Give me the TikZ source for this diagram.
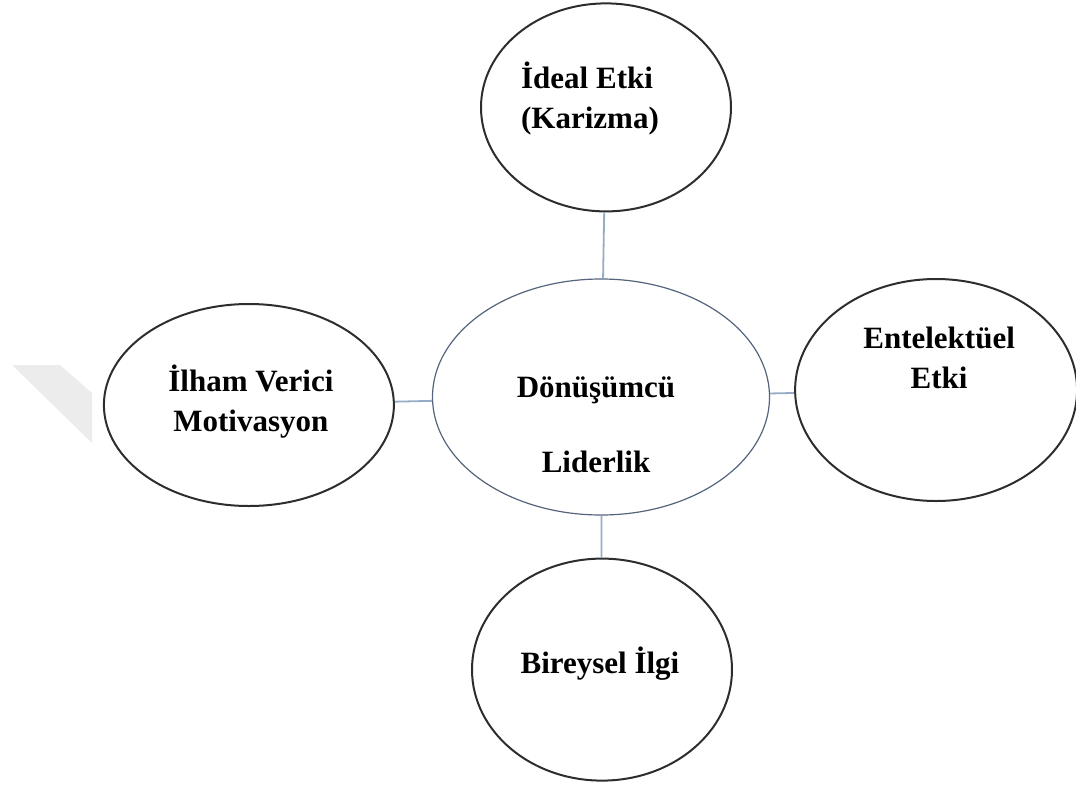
\documentclass[tikz,border=0pt]{standalone}
\usepackage{fontspec}
\setmainfont{Liberation Serif}
\usetikzlibrary{positioning,shapes.geometric}
\definecolor{linkblue}{RGB}{150,172,198}
\definecolor{coreblue}{RGB}{84,100,124}
\definecolor{ringgray}{RGB}{45,45,45}
\definecolor{markgray}{RGB}{236,236,236}
\tikzstyle{dimension}=[
	ellipse,
	draw=ringgray,
	line width=1pt,
	inner sep=0pt
]
\tikzstyle{core}=[
	ellipse,
	draw=coreblue,
	line width=0.6pt,
	inner sep=0pt,
	minimum width=168.5pt,
	minimum height=118pt
]
\tikzstyle{link}=[
	draw=linkblue,
	line width=0.9pt
]
\tikzstyle{caption}=[
	align=center,
	inner sep=0pt,
	font=\bfseries\fontsize{15.5}{20}\selectfont
]

\begin{document}
\begin{tikzpicture}[x=0.5pt,y=-0.5pt]
\useasboundingbox (0,0) rectangle (1076,787);
% faint mark on the left
\fill [markgray] (12,365) -- (60,365) -- (92,393) -- (92,443) -- cycle;

\node [core] (Donusumcu) at (601,397) {};
\node [dimension, minimum width=125pt, minimum height=104pt] (Ideal)[above=33pt of Donusumcu, xshift=2.5pt] {};
\node [dimension, minimum width=145pt, minimum height=101pt] (Ilham)[left=18.5pt of Donusumcu, yshift=-4pt] {};
\node [dimension, minimum width=141pt, minimum height=111pt] (Entelektuel)[right=12pt of Donusumcu, yshift=3.5pt] {};
\node [dimension, minimum width=130pt, minimum height=111pt] (Bireysel)[below=21pt of Donusumcu, xshift=0.5pt] {};

\draw [link] (Ideal) -- (Donusumcu);
\draw [link] (Ilham) -- (Donusumcu);
\draw [link] (Donusumcu) -- (Entelektuel);
\draw [link] (Donusumcu) -- (Bireysel);

\node [caption, align=left] (IdealText) at ([shift={(-16,-9)}]Ideal.center) {İdeal Etki\\(Karizma)};
\node [caption] (IlhamText) at ([shift={(2,-3)}]Ilham.center) {İlham Verici\\Motivasyon};
\node [caption] (DonusumcuText) at ([shift={(-5,28)}]Donusumcu.center) {Dönüşümcü\\[17.5pt]Liderlik};
\node [caption] (EntelektuelText) at ([shift={(3,-32)}]Entelektuel.center) {Entelektüel\\Etki};
\node [caption] (BireyselText) at ([shift={(-2,-6)}]Bireysel.center) {Bireysel İlgi};
\end{tikzpicture}
\end{document}
